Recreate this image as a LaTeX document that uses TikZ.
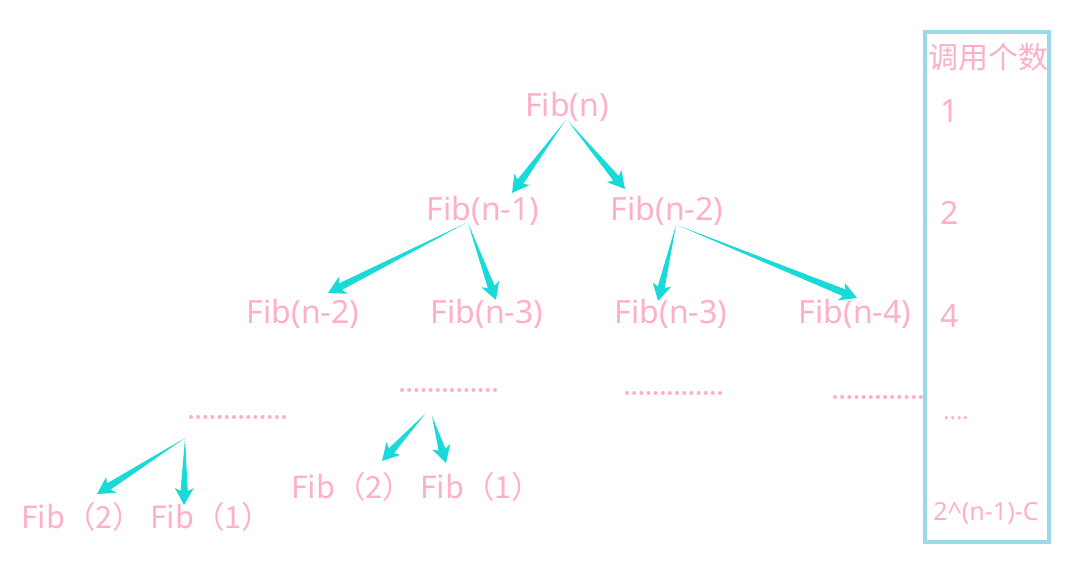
\documentclass[tikz,border=0pt]{standalone}
\usepackage{fontspec}
\setmainfont{Noto Sans}
\newfontfamily\cjk{Noto Sans CJK SC}
\usetikzlibrary{calc}
\definecolor{pinkt}{HTML}{FFAFC9}
\definecolor{arrowc}{HTML}{19D9D9}
\definecolor{boxc}{HTML}{9ADAE8}
\newcommand\taperarrow[2]{%
  \coordinate (tmpC) at ($(#2)!14pt!(#1)$);
  \coordinate (tmpD) at ($(#2)!17pt!(#1)$);
  \fill[arrowc] (#1) -- ($(tmpC)!3.6pt!90:(#2)$) -- ($(tmpD)!9.5pt!90:(#2)$) -- (#2)
     -- ($(tmpD)!9.5pt!-90:(#2)$) -- ($(tmpC)!3.6pt!-90:(#2)$) -- cycle;}
\begin{document}
\begin{tikzpicture}[x=1pt,y=-1pt,
  lbl/.style={inner sep=0pt,text=pinkt,font=\fontsize{32}{36}\selectfont},
  lblc/.style={inner sep=0pt,text=pinkt,font=\cjk\fontsize{30.5}{34}\selectfont},
  dotline/.style={draw=pinkt,line width=4pt,line cap=round,dash pattern=on 0pt off 7.15pt}]
\useasboundingbox (0,0) rectangle (1084,569);
% tree nodes
\node[lbl] (fn) at (567,107) {Fib(n)};
\node[lbl] (fn1) at (483,211) {Fib(n-1)};
\node[lbl] (fn2) at (667,211) {Fib(n-2)};
\node[lbl] (ra) at (303,314) {Fib(n-2)};
\node[lbl] (rb) at (487,314) {Fib(n-3)};
\node[lbl] (rc) at (671,314) {Fib(n-3)};
\node[lbl] (rd) at (855,314) {Fib(n-4)};
\node[lblc] (la) at (82,517) {Fib（2）};
\node[lblc] (lb) at (211,517) {Fib（1）};
\node[lblc] (ma) at (352,487) {Fib（2）};
\node[lblc] (mb) at (481,487) {Fib（1）};
% dotted ellipses
\coordinate (d1a) at (191,417); \coordinate (d1b) at (285,417);
\coordinate (d2a) at (402,390); \coordinate (d2b) at (496,390);
\coordinate (d3a) at (627,393); \coordinate (d3b) at (720,393);
\coordinate (d4a) at (835,397); \coordinate (d4b) at (926,397);
\draw[dotline] (d1a) -- (d1b);
\draw[dotline] (d2a) -- (d2b);
\draw[dotline] (d3a) -- (d3b);
\draw[dotline] (d4a) -- (d4b);
% arrow endpoints
\coordinate (s1) at (565,121); \coordinate (t1) at (512,193);
\coordinate (s2) at (568,121); \coordinate (t2) at (625,189);
\coordinate (s3) at (466,223); \coordinate (t3) at (328,293);
\coordinate (s4) at (468,223); \coordinate (t4) at (496,300);
\coordinate (s5) at (676,225); \coordinate (t5) at (658,301);
\coordinate (s6) at (677,225); \coordinate (t6) at (857,298);
\coordinate (s7) at (185,438); \coordinate (t7) at (97,494);
\coordinate (s8) at (185,438); \coordinate (t8) at (184,505);
\coordinate (s9) at (425,414); \coordinate (t9) at (382,461);
\coordinate (s10) at (432,416); \coordinate (t10) at (446,463);
\taperarrow{s1}{t1}
\taperarrow{s2}{t2}
\taperarrow{s3}{t3}
\taperarrow{s4}{t4}
\taperarrow{s5}{t5}
\taperarrow{s6}{t6}
\taperarrow{s7}{t7}
\taperarrow{s8}{t8}
\taperarrow{s9}{t9}
\taperarrow{s10}{t10}
% right column
\draw[boxc,line width=4pt] (925,32) rectangle (1049,542);
\node[lblc,font=\cjk\fontsize{30}{34}\selectfont] (hd) at (988,57) {调用个数};
\node[lbl] (c1) at (950,111) {1};
\node[lbl] (c2) at (950,213) {2};
\node[lbl] (c4) at (950,316) {4};
\node[lbl,font=\fontsize{24}{28}\selectfont] (cd) at (956,418) {....};
\node[lbl,font=\fontsize{25}{28}\selectfont] (cf) at (986,513) {2\^{}(n-1)-C};
\end{tikzpicture}
\end{document}
